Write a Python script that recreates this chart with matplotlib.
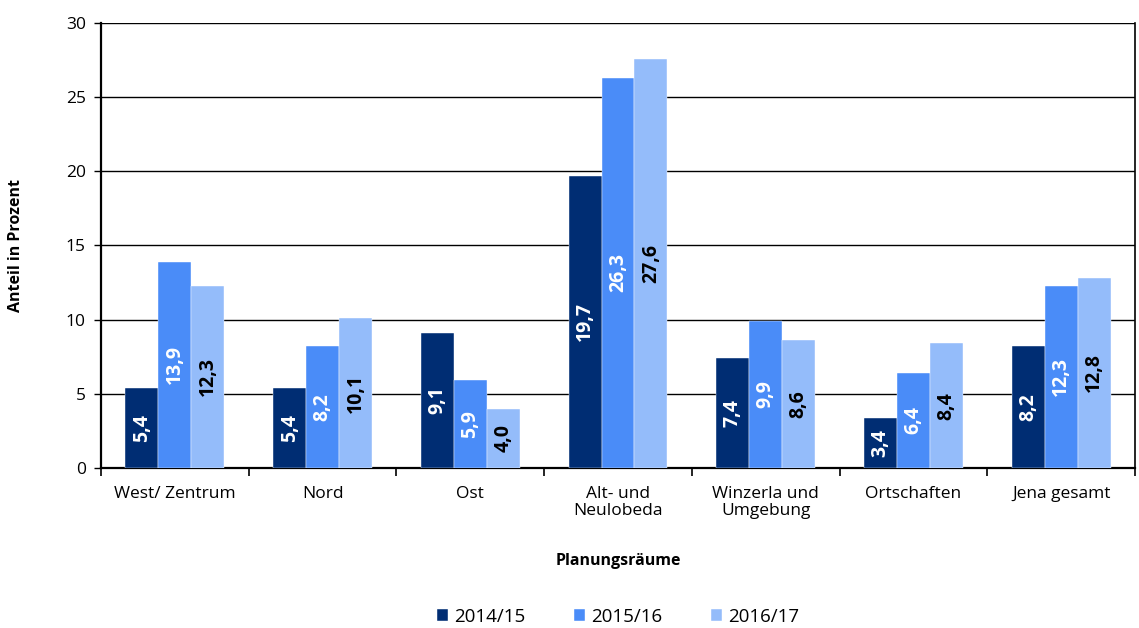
import numpy as np
import matplotlib
matplotlib.use('Agg')
from matplotlib import pyplot as plt

plt.rcParams['font.family'] = ['Open Sans', 'DejaVu Sans']

# data
regions = ['West/ Zentrum', 'Nord', 'Ost', 'Alt- und\nNeulobeda',
           'Winzerla und\nUmgebung', 'Ortschaften', 'Jena gesamt']
years = ['2014/15', '2015/16', '2016/17']
v_1415 = [5.4, 5.4, 9.1, 19.7, 7.4, 3.4, 8.2]
v_1516 = [13.9, 8.2, 5.9, 26.3, 9.9, 6.4, 12.3]
v_1617 = [12.3, 10.1, 4.0, 27.6, 8.6, 8.4, 12.8]

colors = ['#002d73', '#4a8cf8', '#94bcfa']
label_colors = ['white', 'white', 'black']

fig = plt.figure(figsize=(11.39, 6.28), dpi=100)
ax = fig.add_axes([0.0887, 0.2548, 0.9078, 0.7086])

x = np.arange(len(regions))
w = 0.223
series = [v_1415, v_1516, v_1617]
for i, vals in enumerate(series):
    bars = ax.bar(x + (i - 1) * w, vals, w, color=colors[i], label=years[i],
                  zorder=3, edgecolor='white', linewidth=0.3)
    for b, v in zip(bars, vals):
        ax.text(b.get_x() + b.get_width() / 2, v / 2,
                ('%.1f' % v).replace('.', ','), rotation=90,
                ha='center', va='center', color=label_colors[i],
                fontsize=14, fontweight='bold', zorder=4)

ax.set_xlim(-0.5, len(regions) - 0.5)
ax.set_ylim(0, 30)
ax.set_yticks(range(0, 31, 5))
ax.yaxis.grid(True, color='black', linewidth=1, zorder=0)
ax.set_axisbelow(True)

ax.set_xticks(x)
ax.set_xticklabels(regions, fontsize=12.5, linespacing=1.1)
ax.tick_params(axis='x', which='major', length=0, pad=13)
ax.set_xticks(np.arange(-0.5, len(regions), 1), minor=True)
ax.tick_params(axis='x', which='minor', length=6, width=1.2, direction='out')
ax.tick_params(axis='y', length=5, width=1, labelsize=12.5, pad=6)

ax.spines['top'].set_visible(False)
for s in ['left', 'bottom']:
    ax.spines[s].set_linewidth(1.6)
ax.spines['right'].set_linewidth(1.2)

ax.set_ylabel('Anteil in Prozent', fontsize=11.5, fontweight='bold', labelpad=30)
ax.set_xlabel('Planungsräume', fontsize=11.5, fontweight='bold', labelpad=24)

ax.legend(loc='center', bbox_to_anchor=(0.5, -0.335), ncol=3, frameon=False,
          fontsize=13.5, handlelength=0.6, handleheight=0.6, handletextpad=0.3,
          columnspacing=2.6)

fig.savefig('out.png', dpi=100)
